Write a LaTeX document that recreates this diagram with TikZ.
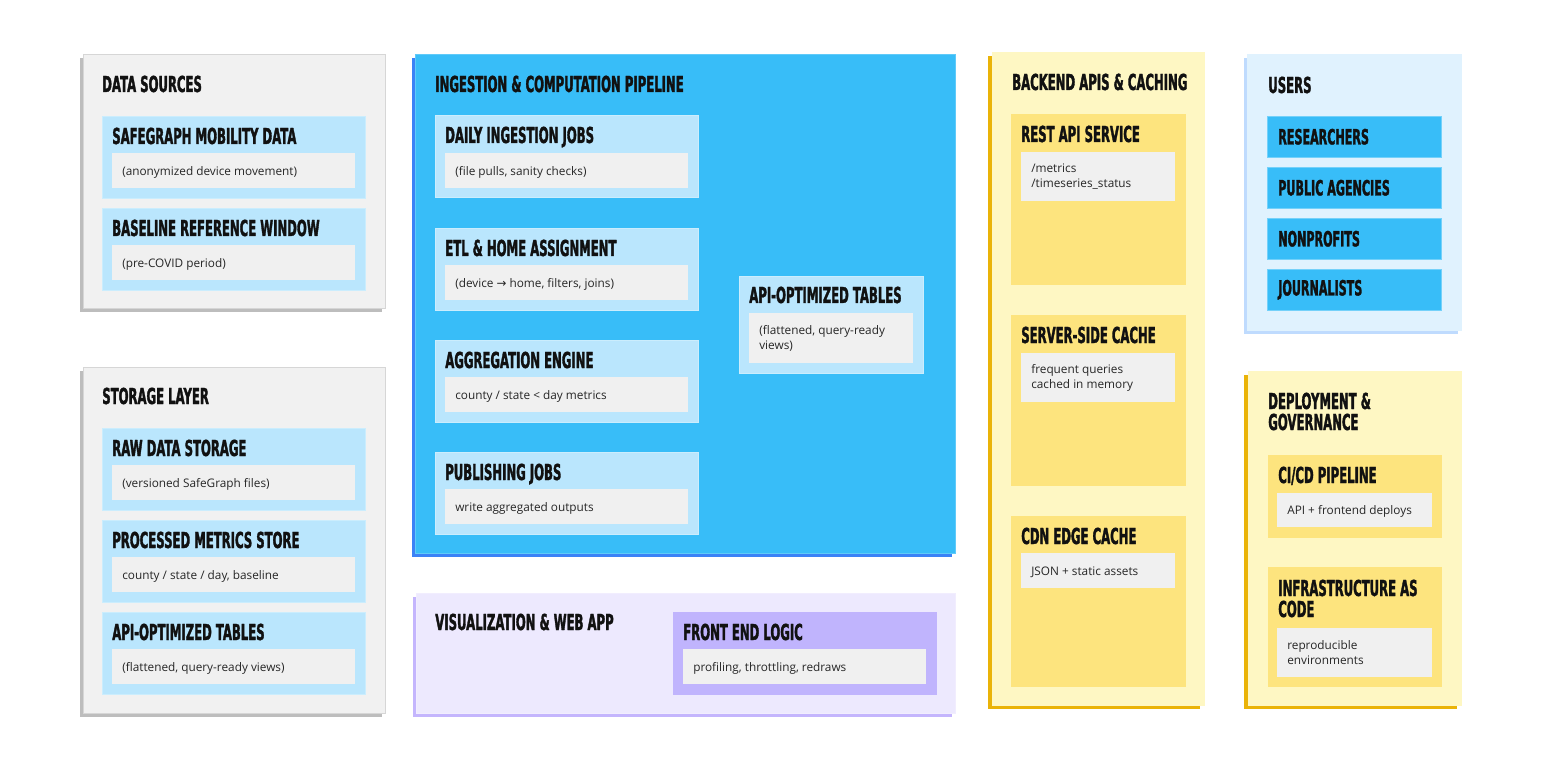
\documentclass[tikz,border=0pt]{standalone}
\usepackage{fontspec}
\usepackage{xcolor}
\usepackage{tikz}
\usetikzlibrary{positioning,shadows}
\newfontfamily\headfont[FakeStretch=0.53,FakeBold=1.5]{DejaVu Sans}
\newfontfamily\notefont{Open Sans}
\newfontfamily\arrowfont{DejaVu Sans}
\definecolor{ink}{HTML}{111111}
\definecolor{notetext}{HTML}{262626}
\definecolor{panelgray}{HTML}{F1F1F1}
\definecolor{panelline}{HTML}{D6D6D6}
\definecolor{grayshadow}{HTML}{BDBDBD}
\definecolor{skycard}{HTML}{BAE6FD}
\definecolor{skyline}{HTML}{CBEDFD}
\definecolor{notegray}{HTML}{F0F0F0}
\definecolor{pipeblue}{HTML}{38BDF8}
\definecolor{pipeshadow}{HTML}{3B82F6}
\definecolor{vizfill}{HTML}{EDE9FE}
\definecolor{vizshadow}{HTML}{C4B5FD}
\definecolor{fecard}{HTML}{C0B4FD}
\definecolor{backfill}{HTML}{FEF7C3}
\definecolor{backshadow}{HTML}{EAB308}
\definecolor{ambercard}{HTML}{FDE47E}
\definecolor{userfill}{HTML}{E0F2FE}
\definecolor{usershadow}{HTML}{BFDBFE}

\begin{document}
\begin{tikzpicture}[x=1pt,y=-1pt,line width=0.6pt,
	panel/.style={rectangle,anchor=north west,inner sep=0pt,outer sep=0pt},
	graypanel/.style={panel,fill=panelgray,draw=panelline,drop shadow={shadow xshift=-3.5pt,shadow yshift=-4pt,fill=grayshadow,opacity=1}},
	bluepanel/.style={panel,fill=pipeblue,draw=pipeblue!80!white,drop shadow={shadow xshift=-3.5pt,shadow yshift=-4pt,fill=pipeshadow,opacity=1}},
	vizpanel/.style={panel,fill=vizfill,draw=vizfill!80!white,drop shadow={shadow xshift=-3.5pt,shadow yshift=-4pt,fill=vizshadow,opacity=1}},
	yellowpanel/.style={panel,fill=backfill,draw=backfill,drop shadow={shadow xshift=-4pt,shadow yshift=-4pt,fill=backshadow,opacity=1}},
	userpanel/.style={panel,fill=userfill,draw=userfill,drop shadow={shadow xshift=-3.5pt,shadow yshift=-4pt,fill=usershadow,opacity=1}},
	ptitle/.style={anchor=base west,inner sep=0pt,text=ink,align=flush left,font=\headfont\bfseries\fontsize{22}{21}\selectfont},
	card/.style={rectangle,anchor=north west,inner sep=0pt,minimum width=263,minimum height=82,fill=skycard,draw=skyline},
	ambcard/.style={card,minimum width=174,fill=ambercard,draw=ambercard},
	note/.style={rectangle,anchor=north west,fill=notegray,inner xsep=10pt,inner ysep=0pt,minimum height=35,text width=#1,align=flush left,text=notetext,font=\notefont\fontsize{11.8}{15}\selectfont},
	oneline/.style={note=#1,text depth=0pt},
	useritem/.style={rectangle,anchor=north west,fill=pipeblue,draw=pipeblue!70!white,minimum height=41,text width=152pt,inner xsep=11pt,inner ysep=0pt,align=flush left,text=ink,font=\headfont\bfseries\fontsize{21}{21}\selectfont}]
	\useasboundingbox (0,0) rectangle (1542,767);
	\fill[white] (0,0) rectangle (1542,767);

	\node[graypanel,minimum width=302,minimum height=254] (srcs) at (83,54) {};
	\node[ptitle] (srcstitle) at (102,92) {DATA SOURCES};
	\node[card] (sgdata) at (102,116) {};
	\node[ptitle] (sghead) at (112,144) {SAFEGRAPH MOBILITY DATA};
	\node[oneline=223pt] (sgnote) at (112,153) {(anonymized device movement)};
	\node[card] (baseline) at (102,208) {};
	\node[ptitle] (blhead) at (112,236) {BASELINE REFERENCE WINDOW};
	\node[oneline=223pt] (blnote) at (112,245) {(pre-COVID period)};

	\node[graypanel,minimum width=302,minimum height=346] (store) at (83,367) {};
	\node[ptitle] (storetitle) at (102,404) {STORAGE LAYER};
	\node[card] (raw) at (102,428) {};
	\node[ptitle] (rawhead) at (112,456) {RAW DATA STORAGE};
	\node[oneline=223pt] (rawnote) at (112,465) {(versioned SafeGraph files)};
	\node[card] (proc) at (102,520) {};
	\node[ptitle] (prochead) at (112,548) {PROCESSED METRICS STORE};
	\node[oneline=223pt] (procnote) at (112,557) {county / state / day, baseline};
	\node[card] (apistore) at (102,612) {};
	\node[ptitle] (apistorehead) at (112,640) {API-OPTIMIZED TABLES};
	\node[oneline=223pt] (apistorenote) at (112,649) {(flattened, query-ready views)};

	\node[bluepanel,minimum width=540,minimum height=499] (pipe) at (415,54) {};
	\node[ptitle] (pipetitle) at (435,92) {INGESTION \& COMPUTATION PIPELINE};
	\node[card] (daily) at (435,115) {};
	\node[ptitle] (dailyhead) at (445,143) {DAILY INGESTION JOBS};
	\node[oneline=223pt] (dailynote) at (445,153) {(file pulls, sanity checks)};
	\node[card] (etl) at (435,228) {};
	\node[ptitle] (etlhead) at (445,256) {ETL \& HOME ASSIGNMENT};
	\node[oneline=223pt] (etlnote) at (445,265) {(device {\arrowfont →} home, filters, joins)};
	\node[card] (aggr) at (435,340) {};
	\node[ptitle] (aggrhead) at (445,368) {AGGREGATION ENGINE};
	\node[oneline=223pt] (aggrnote) at (445,377) {county / state {\textless} day metrics};
	\node[card] (publ) at (435,452) {};
	\node[ptitle] (publhead) at (445,480) {PUBLISHING JOBS};
	\node[oneline=223pt] (publnote) at (445,489) {write aggregated outputs};
	\node[card,minimum width=184,minimum height=97] (apipipe) at (739,276) {};
	\node[ptitle] (apipipehead) at (749,303) {API-OPTIMIZED TABLES};
	\node[note=144pt,minimum height=50] (apipipenote) at (749,313) {(flattened, query-ready\\views)};

	\node[vizpanel,minimum width=539,minimum height=120] (viz) at (416,593) {};
	\node[ptitle] (viztitle) at (435,630) {VISUALIZATION \& WEB APP};
	\node[card,fill=fecard,draw=fecard] (front) at (673,612) {};
	\node[ptitle] (fronthead) at (683,640) {FRONT END LOGIC};
	\node[oneline=223pt] (frontnote) at (683,649) {profiling, throttling, redraws};

	\node[yellowpanel,minimum width=212,minimum height=653] (back) at (992,52) {};
	\node[ptitle] (backtitle) at (1012,90) {BACKEND APIS \& CACHING};
	\node[ambcard,minimum height=170] (rest) at (1011,114) {};
	\node[ptitle] (resthead) at (1021,142) {REST API SERVICE};
	\node[note=134pt,minimum height=49] (restnote) at (1021,152) {/metrics\\/timeseries\_status};
	\node[ambcard,minimum height=170] (ssc) at (1011,315) {};
	\node[ptitle] (sschead) at (1021,343) {SERVER-SIDE CACHE};
	\node[note=134pt,minimum height=49] (sscnote) at (1021,353) {frequent queries\\cached in memory};
	\node[ambcard,minimum height=170] (cdn) at (1011,516) {};
	\node[ptitle] (cdnhead) at (1021,544) {CDN EDGE CACHE};
	\node[oneline=134pt] (cdnnote) at (1021,553) {JSON + static assets};

	\node[userpanel,minimum width=214,minimum height=276] (users) at (1247,54) {};
	\node[ptitle] (userstitle) at (1268,93) {USERS};
	\node[useritem] (resr) at (1267,116) {RESEARCHERS};
	\node[useritem] (agency) at (1267,167) {PUBLIC AGENCIES};
	\node[useritem] (nonprof) at (1267,218) {NONPROFITS};
	\node[useritem] (journ) at (1267,269) {JOURNALISTS};

	\node[yellowpanel,minimum width=213,minimum height=334] (deploy) at (1248,371) {};
	\node[ptitle] (deploytitle) at (1268,430) {DEPLOYMENT \&\\GOVERNANCE};
	\node[ambcard,minimum width=173] (cicd) at (1268,455) {};
	\node[ptitle] (cicdhead) at (1278,483) {CI/CD PIPELINE};
	\node[oneline=135pt,minimum height=34] (cicdnote) at (1277,493) {API + frontend deploys};
	\node[ambcard,minimum width=173,minimum height=119] (infra) at (1268,567) {};
	\node[ptitle] (infrahead) at (1278,617) {INFRASTRUCTURE AS\\CODE};
	\node[note=135pt,minimum height=49] (infranote) at (1277,628) {reproducible\\environments};
\end{tikzpicture}
\end{document}
